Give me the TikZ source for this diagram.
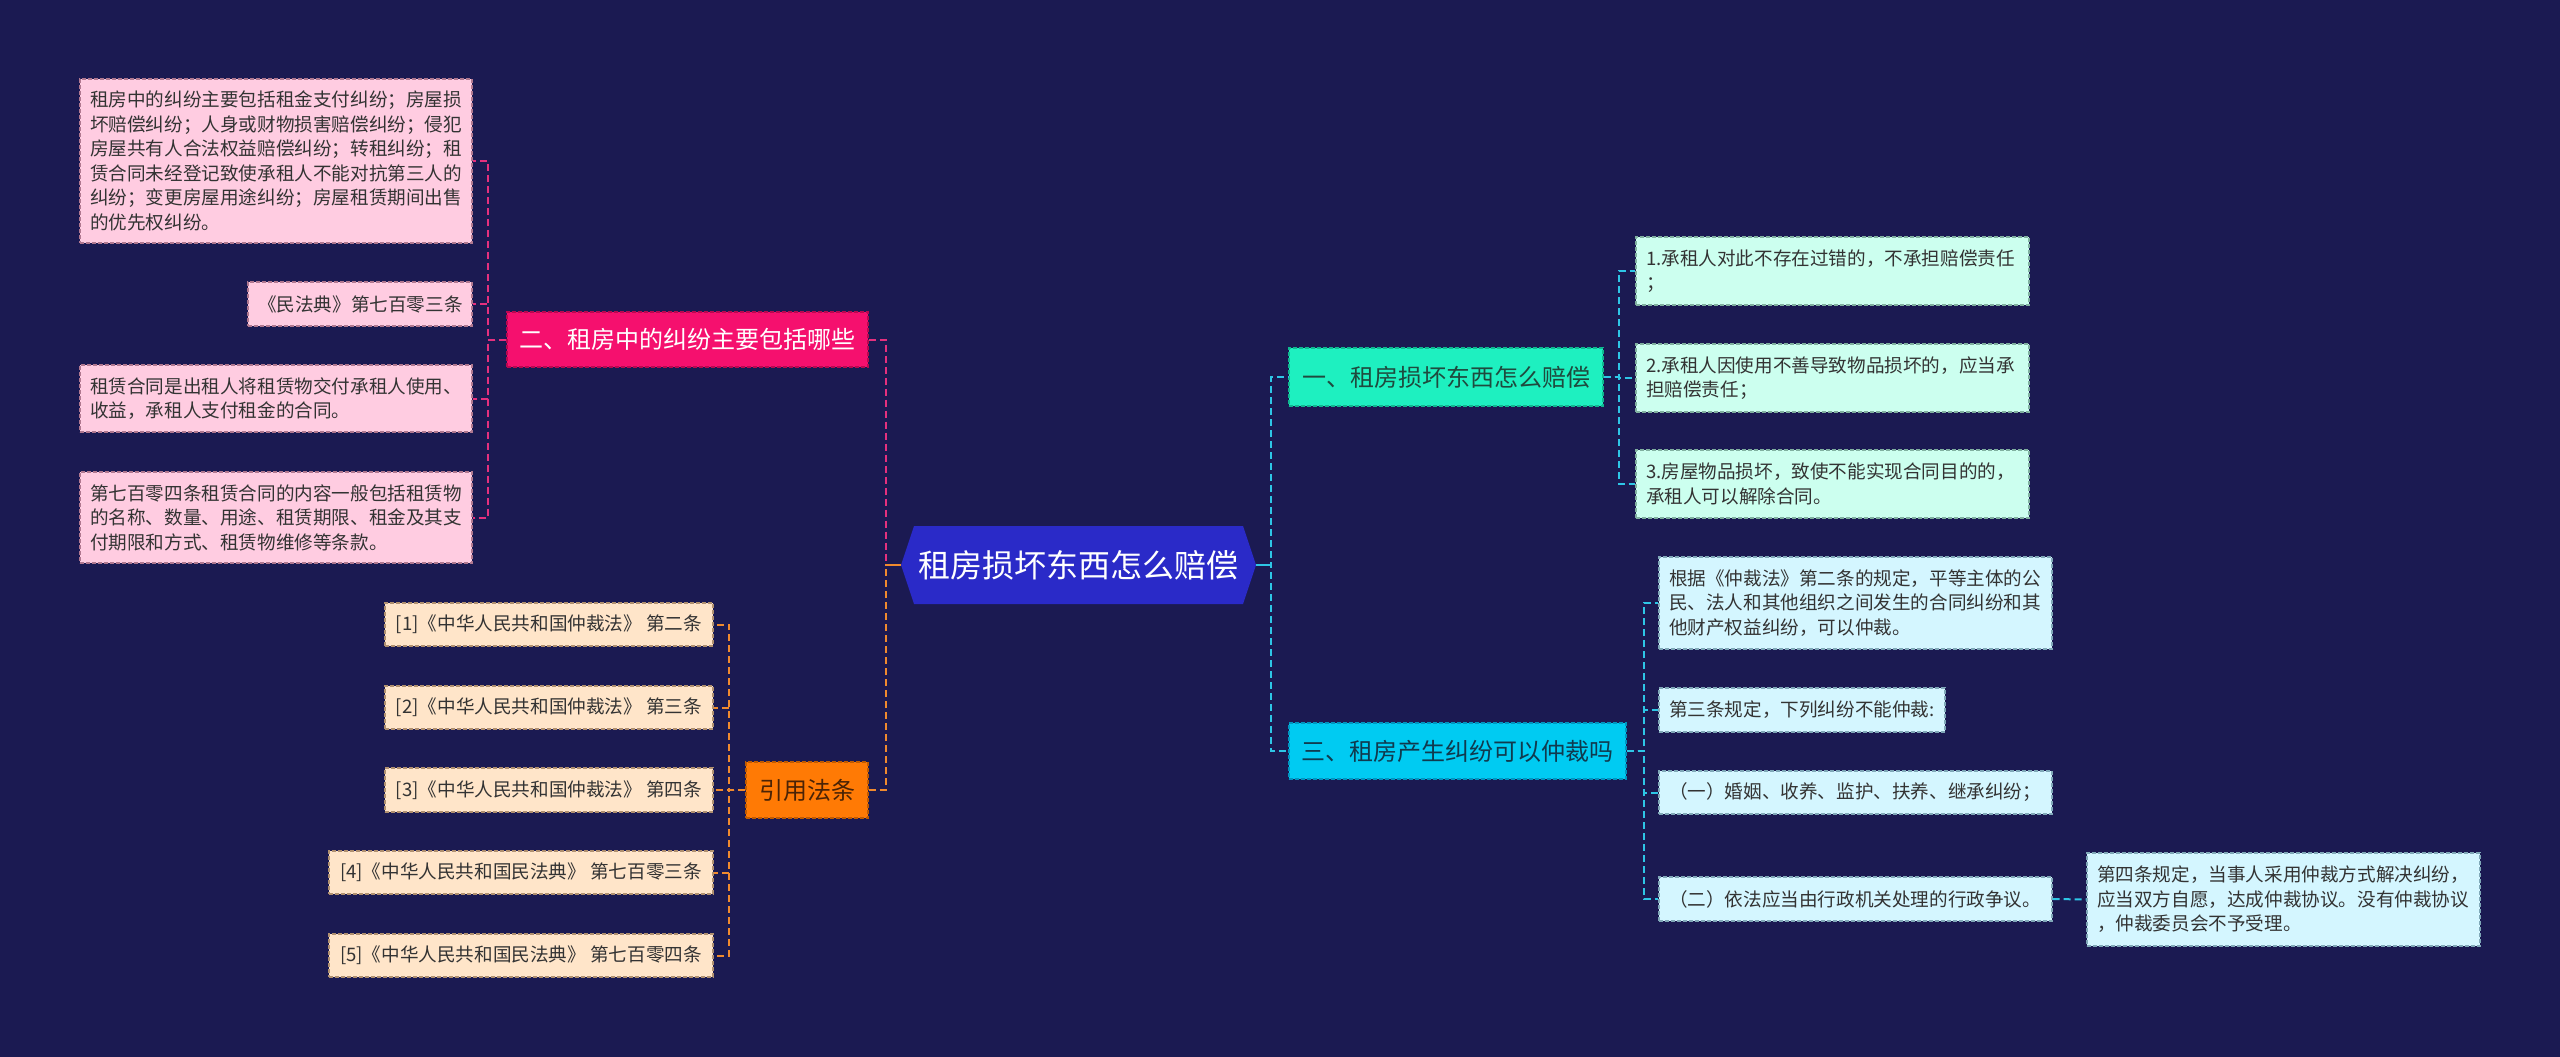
\documentclass[tikz,border=0pt]{standalone}
\usepackage{fontspec}
\setmainfont{Noto Sans CJK SC}
\usetikzlibrary{calc}
\definecolor{bg}{HTML}{1B1A52}
\definecolor{rootblue}{HTML}{2A2AC8}
\definecolor{mintB}{HTML}{1EF0C0}
\definecolor{mintBd}{HTML}{0FB890}
\definecolor{mintBt}{HTML}{1F4A3E}
\definecolor{cyanB}{HTML}{00CBF2}
\definecolor{cyanBd}{HTML}{0096C0}
\definecolor{cyanBt}{HTML}{103A4E}
\definecolor{magB}{HTML}{F5106E}
\definecolor{magBd}{HTML}{B80850}
\definecolor{orgB}{HTML}{FF7A05}
\definecolor{orgBd}{HTML}{C05A00}
\definecolor{orgBt}{HTML}{4A2306}
\definecolor{pinkC}{HTML}{FFCCE1}
\definecolor{pinkCd}{HTML}{B07890}
\definecolor{peachC}{HTML}{FFE5C9}
\definecolor{peachCd}{HTML}{B09070}
\definecolor{mintC}{HTML}{CCFFEF}
\definecolor{mintCd}{HTML}{80B0A0}
\definecolor{lcyanC}{HTML}{D4F6FF}
\definecolor{lcyanCd}{HTML}{80A8B8}
\definecolor{cpink}{HTML}{E5307E}
\definecolor{corange}{HTML}{F08A2E}
\definecolor{ccyan}{HTML}{2EC6E6}
\definecolor{txtdark}{HTML}{333333}
\begin{document}
\begin{tikzpicture}[x=1pt,y=-1pt,
  boxbase/.style={rectangle, inner ysep=0pt, inner xsep=10pt, line width=1.2pt, dash pattern=on 4pt off 2pt},
  child/.style={boxbase, align=left, font=\fontsize{18.6}{24.5}\selectfont, text=txtdark},
  pinkbox/.style={child, fill=pinkC, draw=pinkCd},
  peachbox/.style={child, fill=peachC, draw=peachCd, inner xsep=3pt},
  mintbox/.style={child, fill=mintC, draw=mintCd},
  lcyanbox/.style={child, fill=lcyanC, draw=lcyanCd},
  branch/.style={boxbase, inner xsep=0pt, align=center, font=\fontsize{24}{28}\selectfont},
  con/.style={line width=2pt, dash pattern=on 7pt off 4pt},
  conpink/.style={con, draw=cpink},
  conorange/.style={con, draw=corange},
  concyan/.style={con, draw=ccyan}
]
\useasboundingbox (0,0) rectangle (2560,1057);
\fill[bg] (0,0) rectangle (2560,1057);

% root
\node[rectangle, inner sep=0pt, minimum width=355pt, minimum height=78pt,
  font=\fontsize{32}{36}\selectfont, text=white,
  path picture={\fill[rootblue] (path picture bounding box.west)
    -- ([xshift=13pt]path picture bounding box.north west)
    -- ([xshift=-13pt]path picture bounding box.north east)
    -- (path picture bounding box.east)
    -- ([xshift=-13pt]path picture bounding box.south east)
    -- ([xshift=13pt]path picture bounding box.south west) -- cycle;}]
  (root) at (1078.5,565) {租房损坏东西怎么赔偿};

% branches
\node[branch, fill=mintB, draw=mintBd, text=mintBt, minimum width=314pt, minimum height=58pt] (b1) at (1446,377) {一、租房损坏东西怎么赔偿};
\node[branch, fill=cyanB, draw=cyanBd, text=cyanBt, minimum width=337pt, minimum height=56pt] (b3) at (1457.5,751) {三、租房产生纠纷可以仲裁吗};
\node[branch, fill=magB, draw=magBd, text=white, minimum width=361pt, minimum height=55pt] (b2) at (687.5,339.5) {二、租房中的纠纷主要包括哪些};
\node[branch, fill=orgB, draw=orgBd, text=orgBt, minimum width=122pt, minimum height=56pt] (b4) at (807,790) {引用法条};

% children of 一
\node[mintbox, text width=373pt, minimum height=68pt] (m1) at (1832.5,271) {1.承租人对此不存在过错的，不承担赔偿责任\\；};
\node[mintbox, text width=373pt, minimum height=68pt] (m2) at (1832.5,378) {2.承租人因使用不善导致物品损坏的，应当承\\担赔偿责任；};
\node[mintbox, text width=373pt, minimum height=68pt] (m3) at (1832.5,484) {3.房屋物品损坏，致使不能实现合同目的的，\\承租人可以解除合同。};

% children of 三
\node[lcyanbox, text width=373pt, minimum height=92pt] (c1) at (1855.5,603) {根据《仲裁法》第二条的规定，平等主体的公\\民、法人和其他组织之间发生的合同纠纷和其\\他财产权益纠纷，可以仲裁。};
\node[lcyanbox, text width=266pt, minimum height=44pt] (c2) at (1802,710) {第三条规定，下列纠纷不能仲裁:};
\node[lcyanbox, text width=373pt, minimum height=43pt] (c3) at (1855.5,792.5) {（一）婚姻、收养、监护、扶养、继承纠纷；};
\node[lcyanbox, text width=373pt, minimum height=44pt] (c4) at (1855.5,899) {（二）依法应当由行政机关处理的行政争议。};
\node[lcyanbox, text width=373pt, minimum height=93pt] (c5) at (2283.5,899.5) {第四条规定，当事人采用仲裁方式解决纠纷，\\应当双方自愿，达成仲裁协议。没有仲裁协议\\，仲裁委员会不予受理。};

% children of 二
\node[pinkbox, text width=372pt, minimum height=164pt] (p1) at (276,161) {租房中的纠纷主要包括租金支付纠纷；房屋损\\坏赔偿纠纷；人身或财物损害赔偿纠纷；侵犯\\房屋共有人合法权益赔偿纠纷；转租纠纷；租\\赁合同未经登记致使承租人不能对抗第三人的\\纠纷；变更房屋用途纠纷；房屋租赁期间出售\\的优先权纠纷。};
\node[pinkbox, text width=204pt, minimum height=44pt] (p2) at (360,304) {《民法典》第七百零三条};
\node[pinkbox, text width=372pt, minimum height=67pt] (p3) at (276,398.5) {租赁合同是出租人将租赁物交付承租人使用、\\收益，承租人支付租金的合同。};
\node[pinkbox, text width=372pt, minimum height=91pt] (p4) at (276,517.5) {第七百零四条租赁合同的内容一般包括租赁物\\的名称、数量、用途、租赁期限、租金及其支\\付期限和方式、租赁物维修等条款。};

% children of 引用法条
\node[peachbox, minimum width=328pt, minimum height=43pt] (r1) at (549,624.5) {[1]《中华人民共和国仲裁法》 第二条};
\node[peachbox, minimum width=328pt, minimum height=43pt] (r2) at (549,707.5) {[2]《中华人民共和国仲裁法》 第三条};
\node[peachbox, minimum width=328pt, minimum height=44pt] (r3) at (549,790) {[3]《中华人民共和国仲裁法》 第四条};
\node[peachbox, minimum width=384pt, minimum height=43pt] (r4) at (521,872.5) {[4]《中华人民共和国民法典》 第七百零三条};
\node[peachbox, minimum width=384pt, minimum height=43pt] (r5) at (521,955.5) {[5]《中华人民共和国民法典》 第七百零四条};

% connectors
\draw[conpink] (b2.east) -- ++(17,0) |- (root.west);
\draw[conorange] (b4.east) -- ++(17,0) |- (root.west);
\draw[corange, line width=2.5pt] (root.west) -- ++(-16,0);
\draw[concyan] (root.east) -- ++(15,0) |- (b1.west);
\draw[concyan] (root.east) -- ++(15,0) |- (b3.west);
\draw[ccyan, line width=2.5pt] (root.east) -- ++(15,0);
\foreach \n in {p1,p2,p3,p4} \draw[conpink] (b2.west) -- ++(-18,0) |- (\n.east);
\foreach \n in {r1,r2,r3,r4,r5} \draw[conorange] (b4.west) -- ++(-16,0) |- (\n.east);
\foreach \n in {m1,m2,m3} \draw[concyan] (b1.east) -- ++(15,0) |- (\n.west);
\foreach \n in {c1,c2,c3,c4} \draw[concyan] (b3.east) -- ++(17,0) |- (\n.west);
\draw[concyan] (c4.east) -- (c5.west);
\end{tikzpicture}
\end{document}
